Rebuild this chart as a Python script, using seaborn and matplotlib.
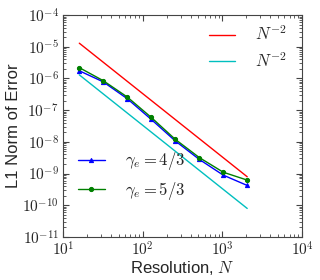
import matplotlib
matplotlib.use("Agg")
import matplotlib.pyplot as plt
import matplotlib.ticker as mticker
import numpy as np
import pandas as pd
import seaborn as sns

# resolutions and L1 errors
resolution = [16, 32, 64, 128, 256, 512, 1024, 2048]
err_43 = [1.75e-6, 7.8e-7, 2.3e-7, 5.1e-8, 1.07e-8, 2.8e-9, 8.9e-10, 4.2e-10]
err_53 = [2.2e-6, 8.5e-7, 2.6e-7, 5.9e-8, 1.2e-8, 3.2e-9, 1.1e-9, 6.2e-10]

# N^-2 reference lines (end points)
ref_n = [16, 2048]
ref_red = [1.3e-5, 7.9e-10]
ref_cyan = [1.3e-6, 7.9e-11]

sns.set_style("ticks")
plt.rcParams["font.family"] = ["Liberation Sans", "DejaVu Sans"]
plt.rcParams["mathtext.fontset"] = "cm"

fig = plt.figure(figsize=(3.2, 2.8), dpi=100)
ax = fig.add_axes([0.197, 0.154, 0.747, 0.792])

sns.lineplot(x=ref_n, y=ref_red, color="r", lw=1, ax=ax, label=r"$N^{-2}$")
sns.lineplot(x=ref_n, y=ref_cyan, color="c", lw=1, ax=ax, label=r"$N^{-2}$")
sns.lineplot(x=resolution, y=err_43, color="b", lw=1, marker="^", markersize=3,
             markeredgecolor="b", ax=ax, label=r"$\gamma_e = 4/3$")
sns.lineplot(x=resolution, y=err_53, color="g", lw=1, marker="o", markersize=3,
             markeredgecolor="g", ax=ax, label=r"$\gamma_e = 5/3$")

ax.set_xscale("log")
ax.set_yscale("log")
ax.set_xlim(1e1, 1e4)
ax.set_ylim(1e-11, 1e-4)

fmt = mticker.FuncFormatter(lambda v, p: r"$10^{%d}$" % round(np.log10(v)))
for axis in (ax.xaxis, ax.yaxis):
    axis.set_major_locator(mticker.LogLocator(base=10, numticks=20))
    axis.set_major_formatter(fmt)
    axis.set_minor_locator(mticker.LogLocator(base=10, subs=np.arange(2, 10), numticks=20))
    axis.set_minor_formatter(mticker.NullFormatter())
ax.tick_params(which="both", direction="in", top=True, right=True, labelsize=11, color="#444444")
ax.tick_params(which="major", length=4, pad=3)
ax.tick_params(which="minor", length=2)
for s in ax.spines.values():
    s.set_color("#444444")

ax.set_xlabel(r"Resolution, $N$", fontsize=12, labelpad=0)
ax.set_ylabel("L1 Norm of Error", fontsize=12, labelpad=1)

lines = ax.get_lines()
leg1 = ax.legend(lines[:2], [l.get_label() for l in lines[:2]], loc="upper right",
                 bbox_to_anchor=(1.0, 1.025), frameon=False, fontsize=12,
                 handlelength=1.6, handletextpad=1.2, labelspacing=0.45)
ax.add_artist(leg1)
ax.legend(lines[2:], [l.get_label() for l in lines[2:]], loc="lower left",
          bbox_to_anchor=(0.0, 0.09), frameon=False, fontsize=12,
          handlelength=1.6, handletextpad=1.2, labelspacing=0.45)

fig.savefig("out.png", dpi=100)
